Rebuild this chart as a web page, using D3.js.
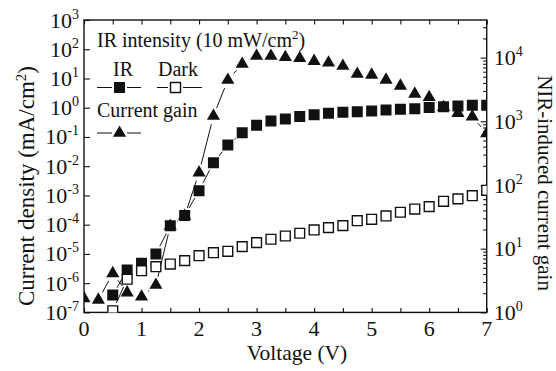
<!DOCTYPE html>
<html><head><meta charset="utf-8">
<script src="https://cdn.jsdelivr.net/npm/d3@7"></script>
</head>
<body style="margin:0;background:#fff">
<svg id="chart" width="556" height="371" font-family="Liberation Serif"></svg>
<script>
// ---- data ----
const volts = [0,0.25,0.5,0.75,1,1.25,1.5,1.75,2,2.25,2.5,2.75,3,3.25,3.5,3.75,4,4.25,4.5,4.75,5,5.25,5.5,5.75,6,6.25,6.5,6.75,7];
const irJ = [null,null,3.9e-7,2.8e-6,4.8e-6,1.0e-5,9.2e-5,2.07e-4,1.45e-3,1.32e-2,0.053,0.14,0.25,0.35,0.41,0.50,0.57,0.65,0.70,0.73,0.78,0.84,0.89,0.93,1.01,1.09,1.15,1.22,1.22];
const darkJ = [null,null,1.14e-7,1.36e-6,2.67e-6,3.66e-6,4.5e-6,5.9e-6,8.7e-6,1.1e-5,1.23e-5,1.77e-5,2.43e-5,3.17e-5,4.1e-5,5.1e-5,6.6e-5,7.9e-5,9.25e-5,1.37e-4,1.53e-4,1.99e-4,2.66e-4,3.43e-4,4.13e-4,6.3e-4,7.6e-4,9.8e-4,1.5e-3];
const gain = [1.66,1.57,4.1,2.04,1.76,2.69,22.7,32.6,156,1211,4450,7940,10600,10600,10100,9770,8800,8300,7380,5530,5340,4460,3590,2690,2380,1660,1340,1180,647];
const leftExps = [-7,-6,-5,-4,-3,-2,-1,0,1,2,3];
const rightExps = [0,1,2,3,4];
const xTickVals = [0,1,2,3,4,5,6,7];
const xMinorVals = [0,0.5,1,1.5,2,2.5,3,3.5,4,4.5,5,5.5,6,6.5,7];

// ---- layout ----
const FONT = '"Liberation Serif", "Times New Roman", Tinos, serif';
const INK = "#111";
const L = 84, R = 486.7, T = 20, B = 312.4;
const svg = d3.select("#chart");
const x = d3.scaleLinear().domain([0,7]).range([L,R]);
const yL = d3.scaleLog().domain([1e-7,1e3]).range([B,T]);
const yR = d3.scaleLog().domain([1, Math.pow(10,(B-T)/63.7)]).range([B,T]);

function txt(parent){
  return parent.append("text").attr("font-family",FONT).style("font-family",FONT).attr("fill",INK);
}

svg.append("defs").append("clipPath").attr("id","plotclip")
  .append("rect").attr("x",L).attr("y",T).attr("width",R-L).attr("height",B-T);

// ---- axes (ticks inward) ----
function styleAxis(g){
  g.select(".domain").remove();
  g.selectAll("text").remove();
  g.selectAll("line").attr("stroke",INK).attr("stroke-width",1.1);
}
const majL = leftExps.map(e=>Math.pow(10,e));
const isMaj = (v,arr)=>arr.some(m=>Math.abs(Math.log10(v)-Math.log10(m))<1e-6);
const minL = yL.ticks().filter(v=>!isMaj(v,majL));
svg.append("g").attr("transform",`translate(${L},0)`).call(d3.axisLeft(yL).tickValues(majL).tickSize(-6)).call(styleAxis);
svg.append("g").attr("transform",`translate(${L},0)`).call(d3.axisLeft(yL).tickValues(minL).tickSize(-3.5)).call(styleAxis);

const majR = rightExps.map(e=>Math.pow(10,e));
const minR = yR.ticks().filter(v=>!isMaj(v,majR));
svg.append("g").attr("transform",`translate(${R},0)`).call(d3.axisRight(yR).tickValues(majR).tickSize(-6)).call(styleAxis);
svg.append("g").attr("transform",`translate(${R},0)`).call(d3.axisRight(yR).tickValues(minR).tickSize(-3.5)).call(styleAxis);

svg.append("g").attr("transform",`translate(0,${B})`).call(d3.axisBottom(x).tickValues(xMinorVals).tickSize(-4.5)).call(styleAxis);
svg.append("g").attr("transform",`translate(0,${T})`).call(d3.axisTop(x).tickValues(xMinorVals).tickSize(-4.5)).call(styleAxis);

svg.append("rect").attr("x",L).attr("y",T).attr("width",R-L).attr("height",B-T)
  .attr("fill","none").attr("stroke",INK).attr("stroke-width",1.4);

// ---- tick labels ----
const fs = 22;
function powLabel(xp, yp, exp, anchor){
  const t = txt(svg).attr("x",xp).attr("y",yp).attr("text-anchor",anchor).attr("font-size",fs);
  t.append("tspan").text("10");
  t.append("tspan").attr("dy",-9).attr("font-size",14).text(String(exp));
}
leftExps.forEach(e=>powLabel(L-5, yL(Math.pow(10,e))+7.5, e, "end"));
rightExps.forEach(e=>powLabel(R+7, yR(Math.pow(10,e))+7.5, e, "start"));
xTickVals.forEach(v=>{
  txt(svg).attr("x",x(v)).attr("y",336).attr("text-anchor","middle").attr("font-size",fs).text(v);
});

// axis titles
txt(svg).attr("x",297).attr("y",359.5).attr("text-anchor","middle").attr("font-size",21.5).text("Voltage (V)");
const lt = txt(svg).attr("transform","translate(34,186) rotate(-90)").attr("text-anchor","middle").attr("font-size",23);
lt.append("tspan").text("Current density (mA/cm");
lt.append("tspan").attr("dy",-8).attr("font-size",15).text("2");
lt.append("tspan").attr("dy",8).text(")");
txt(svg).attr("transform","translate(538,183) rotate(90)").attr("text-anchor","middle").attr("font-size",21).text("NIR-induced current gain");

// ---- series ----
const plot = svg.append("g").attr("clip-path","url(#plotclip)");
function seriesLines(vals, yScale, gap){
  const pts = volts.map((v,i)=> vals[i]==null ? null : [x(v), yScale(vals[i])]);
  for(let i=0;i<pts.length-1;i++){
    const a=pts[i], b=pts[i+1];
    if(!a||!b) continue;
    const dx=b[0]-a[0], dy=b[1]-a[1], d=Math.hypot(dx,dy);
    if(d<=2*gap) continue;
    const ux=dx/d, uy=dy/d;
    plot.append("line").attr("x1",a[0]+ux*gap).attr("y1",a[1]+uy*gap)
      .attr("x2",b[0]-ux*gap).attr("y2",b[1]-uy*gap)
      .attr("stroke",INK).attr("stroke-width",1);
  }
  return pts;
}
const triSym = d3.symbol().type(d3.symbolTriangle).size(75);
const sqSym = d3.symbol().type(d3.symbolSquare).size(121);

const gPts = seriesLines(gain, yR, 8.5);
const iPts = seriesLines(irJ, yL, 8.5);
const dPts = seriesLines(darkJ, yL, 8.5);

plot.selectAll(".tri").data(gPts.filter(p=>p)).join("path").attr("class","tri")
  .attr("d",triSym).attr("transform",p=>`translate(${p[0]},${p[1]})`).attr("fill",INK);
plot.selectAll(".ir").data(iPts.filter(p=>p)).join("path").attr("class","ir")
  .attr("d",sqSym).attr("transform",p=>`translate(${p[0]},${p[1]})`).attr("fill",INK);
plot.selectAll(".dk").data(dPts.filter(p=>p)).join("path").attr("class","dk")
  .attr("d",d3.symbol().type(d3.symbolSquare).size(96)).attr("transform",p=>`translate(${p[0]},${p[1]})`)
  .attr("fill","#fff").attr("stroke",INK).attr("stroke-width",1.4);

// ---- legend ----
const lg = svg.append("g");
const lfs = 20;
const t1 = txt(lg).attr("x",97).attr("y",46.5).attr("font-size",lfs);
t1.append("tspan").text("IR intensity (10 mW/cm");
t1.append("tspan").attr("dy",-8).attr("font-size",13).text("2");
t1.append("tspan").attr("dy",8).text(")");
txt(lg).attr("x",113).attr("y",76).attr("font-size",lfs).text("IR");
txt(lg).attr("x",158).attr("y",76).attr("font-size",lfs).text("Dark");
txt(lg).attr("x",97).attr("y",116.5).attr("font-size",lfs).text("Current");
txt(lg).attr("x",163).attr("y",116.5).attr("font-size",lfs).text("gain");
function legLine(x1,x2,cy){
  lg.append("line").attr("x1",x1).attr("x2",x2).attr("y1",cy).attr("y2",cy).attr("stroke",INK).attr("stroke-width",1);
}
legLine(97,112,87.5); legLine(127,141,87.5);
lg.append("path").attr("d",d3.symbol().type(d3.symbolSquare).size(121)).attr("transform","translate(119.5,87.5)").attr("fill",INK);
legLine(157,168,87.5); legLine(183,202,87.5);
lg.append("path").attr("d",d3.symbol().type(d3.symbolSquare).size(100)).attr("transform","translate(175.5,87.5)").attr("fill","#fff").attr("stroke",INK).attr("stroke-width",1.4);
legLine(97,112,133); legLine(127,141,133);
lg.append("path").attr("d",d3.symbol().type(d3.symbolTriangle).size(75)).attr("transform","translate(119.5,133)").attr("fill",INK);
</script>
</body></html>
